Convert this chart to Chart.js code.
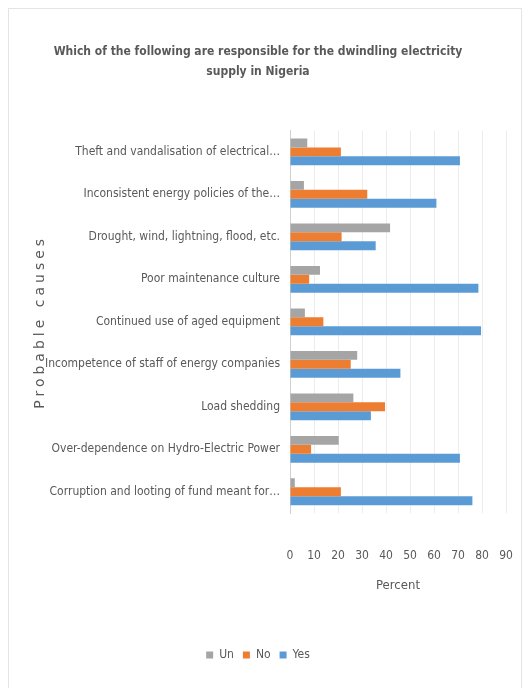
<!DOCTYPE html>
<html>
<head>
<meta charset="utf-8">
<script src="https://cdn.jsdelivr.net/npm/chart.js@4/dist/chart.umd.min.js"></script>
<style>
    html, body { margin: 0; padding: 0; background: #ffffff; }
    #wrap { position: relative; width: 523px; height: 688px; }
    #frame {
        position: absolute; left: 8px; top: 8px; width: 514px; height: 690px;
        border: 1px solid #e4e4e4; box-sizing: border-box; pointer-events: none;
    }
</style>
</head>
<body>
<div id="wrap">
    <canvas id="chart" width="523" height="688"></canvas>
    <div id="frame"></div>
</div>
<script>
    'use strict';

    // ============================================================================
    // DATA
    // ============================================================================

    var causes = [
        'Theft and vandalisation of electrical\u2026',
        'Inconsistent energy policies of the\u2026',
        'Drought, wind, lightning, flood, etc.',
        'Poor maintenance culture',
        'Continued use of aged equipment',
        'Incompetence of staff of energy companies',
        'Load shedding',
        'Over-dependence on Hydro-Electric Power',
        'Corruption and looting of fund meant for\u2026'
    ];

    var unValues  = [7.2, 5.8, 41.7, 12.5, 6.2, 28.0, 26.4, 20.3, 2.0];
    var noValues  = [21.2, 32.2, 21.5, 8.0, 13.9, 25.3, 39.6, 8.8, 21.2];
    var yesValues = [70.8, 61.0, 35.7, 78.5, 79.6, 46.0, 33.7, 70.8, 76.0];

    var percentTicks = [0, 10, 20, 30, 40, 50, 60, 70, 80, 90];

    var titleLines = [
        'Which of the following are responsible for the dwindling electricity',
        'supply in Nigeria'
    ];

    // ============================================================================
    // STYLE
    // ============================================================================

    var TEXT = '#595959';
    var NARROW = '"Liberation Sans Narrow", "DejaVu Sans Condensed", sans-serif';

    // y axis title, drawn with letter spacing like the original
    var yTitlePlugin = {
        id: 'yTitle',
        afterDraw: function(chart) {
            var ctx = chart.ctx;
            var area = chart.chartArea;
            ctx.save();
            ctx.translate(40, (area.top + area.bottom) / 2);
            ctx.rotate(-Math.PI / 2);
            ctx.font = '14px "DejaVu Sans", sans-serif';
            if ('letterSpacing' in ctx) ctx.letterSpacing = '4px';
            ctx.fillStyle = TEXT;
            ctx.textAlign = 'center';
            ctx.textBaseline = 'middle';
            ctx.fillText('Probable causes', 0, 0);
            ctx.restore();
        }
    };

    new Chart(document.getElementById('chart'), {
        type: 'bar',
        data: {
            labels: causes,
            datasets: [
                { label: 'Un', data: unValues, backgroundColor: '#a5a5a5' },
                { label: 'No', data: noValues, backgroundColor: '#ed7d31' },
                { label: 'Yes', data: yesValues, backgroundColor: '#5b9bd5' }
            ]
        },
        plugins: [yTitlePlugin],
        options: {
            indexAxis: 'y',
            responsive: false,
            animation: false,
            devicePixelRatio: 1,
            layout: {
                padding: { left: 10, right: 17, top: 0, bottom: 17 }
            },
            datasets: {
                bar: {
                    categoryPercentage: 0.63,
                    barPercentage: 1.0
                }
            },
            plugins: {
                title: {
                    display: true,
                    text: titleLines,
                    color: TEXT,
                    font: { family: NARROW, size: 12, weight: 'bold', lineHeight: 1.65 },
                    padding: { top: 42, bottom: 49 }
                },
                legend: {
                    position: 'bottom',
                    labels: {
                        color: TEXT,
                        boxWidth: 7,
                        boxHeight: 7,
                        padding: 9,
                        font: { family: NARROW, size: 12 }
                    }
                },
                tooltip: { enabled: false }
            },
            scales: {
                x: {
                    min: 0,
                    max: 90,
                    afterBuildTicks: function(scale) {
                        scale.ticks = percentTicks.map(function(v) { return { value: v }; });
                    },
                    afterFit: function(scale) { scale.height = 127; },
                    grid: { color: '#ececec', drawTicks: true, tickLength: 36, tickColor: 'rgba(0,0,0,0)' },
                    border: { display: false },
                    ticks: {
                        color: TEXT,
                        padding: 0,
                        maxRotation: 0,
                        font: { family: NARROW, size: 12 }
                    },
                    title: {
                        display: true,
                        text: 'Percent',
                        color: TEXT,
                        padding: { top: 4, bottom: 47 },
                        font: { family: NARROW, size: 13 }
                    }
                },
                y: {
                    afterFit: function(scale) { scale.width = 280; },
                    grid: { display: false, drawTicks: false },
                    border: { display: true, color: '#d0d0d0' },
                    ticks: {
                        color: TEXT,
                        padding: 10,
                        font: { family: NARROW, size: 12 }
                    }
                }
            }
        }
    });
</script>
</body>
</html>
